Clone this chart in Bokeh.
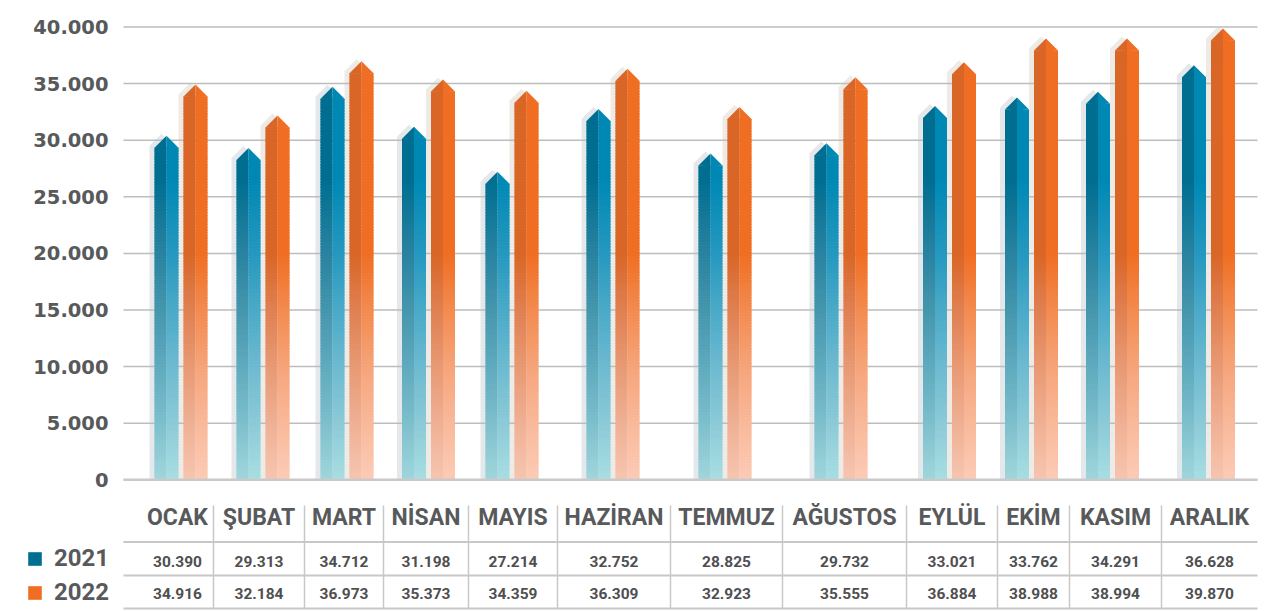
from bokeh.plotting import figure
from bokeh.models import Range1d, ColumnDataSource, Legend, LegendItem
from bokeh.embed import file_html
from bokeh.resources import INLINE
from bokeh.core.properties import value

# ---------------- data ----------------
months = ["OCAK", "ŞUBAT", "MART", "NİSAN", "MAYIS", "HAZİRAN",
          "TEMMUZ", "AĞUSTOS", "EYLÜL", "EKİM", "KASIM", "ARALIK"]
series = ["2021", "2022"]
sales_2021 = [30390, 29313, 34712, 31198, 27214, 32752, 28825, 29732, 33021, 33762, 34291, 36628]
sales_2022 = [34916, 32184, 36973, 35373, 34359, 36309, 32923, 35555, 36884, 38988, 38994, 39870]
y_ticks = [0, 5000, 10000, 15000, 20000, 25000, 30000, 35000, 40000]


def tr_num(v):
    return f"{v:,}".replace(",", ".")


tick_labels = [tr_num(t) for t in y_ticks]

# ---------------- layout (page pixels) ----------------
W, H = 1283, 611
PLOT_L, PLOT_R = 123, 1257
Y0_PX, Y40K_PX = 479.3, 26.5
PPU = (Y0_PX - Y40K_PX) / 40000.0          # pixels per unit
y_top = Y0_PX / PPU
y_bot = -(H - Y0_PX) / PPU

col_edges = [123, 213, 304, 383, 468, 557, 670, 782, 906, 997, 1069, 1161, 1257]
text_x = [177, 258.5, 343.5, 425.5, 512.5, 613.5, 726, 844, 951.5, 1033, 1115, 1209]
bar_x = [180.5, 262.5, 346.5, 428, 511.5, 612.5, 724.5, 840.5, 949, 1031, 1112, 1208]
BAR_W, GAP = 24, 5
TIP = 12 / PPU
SH_DX, SH_DY = -5, 2 / PPU
STEP = 250
OVER = 150
TICK_LABEL_X = 108

HEAD_TOP, HEAD_LINE, MID_LINE, BOT_LINE = 505, 541.5, 575, 608
HEAD_BASE, ROW1_BASE, ROW2_BASE = 516.5, 560.5, 592.5

TXT = "#58595b"
VAL_TXT = "#4f4f51"
GRID = "#bdbdbd"
TBL = "#c8c8c8"

stops = {
    ("2021", "L"): [(0, "#a0d6dc"), (5000, "#7dbfcc"), (10000, "#5faabe"), (15000, "#4596ad"),
                    (20000, "#2883a0"), (26500, "#006e91")],
    ("2021", "R"): [(0, "#a8dee2"), (5000, "#8ccad7"), (10000, "#6dbad0"), (15000, "#4aaac8"),
                    (20000, "#2598bf"), (26500, "#0088b5")],
    ("2022", "L"): [(0, "#f6c5b0"), (5000, "#efb094"), (10000, "#e89973"), (15000, "#e08052"),
                    (20000, "#d96626")],
    ("2022", "R"): [(0, "#fccbb6"), (5000, "#f9b99a"), (10000, "#f6a47a"), (15000, "#f38b4f"),
                    (20000, "#f06e23")],
}
shadow_col = {"2021": "#e5e8eb", "2022": "#eeebe7"}
legend_index = {"2021": 0, "2022": 1}


def hex2rgb(h):
    return tuple(int(h[i:i + 2], 16) for i in (1, 3, 5))


def ramp(st, v):
    if v <= st[0][0]:
        return st[0][1]
    for (a, ca), (b, cb) in zip(st[:-1], st[1:]):
        if v <= b:
            t = (v - a) / (b - a)
            r1, r2 = hex2rgb(ca), hex2rgb(cb)
            return "#%02x%02x%02x" % tuple(round(x + (y - x) * t) for x, y in zip(r1, r2))
    return st[-1][1]


p = figure(width=W, height=H,
           x_range=Range1d(0, W), y_range=Range1d(y_bot, y_top),
           output_backend="svg", toolbar_location=None,
           min_border=0, x_axis_location=None, y_axis_location=None,
           outline_line_color=None, background_fill_color="white",
           border_fill_color="white")
p.extra_y_ranges = {"pg": Range1d(H, 0)}
p.xgrid.visible = False
p.ygrid.visible = False

# ---------------- geometry from data ----------------
sh = dict(xs=[], ys=[], c=[])
sl = dict(l=[], r=[], b=[], t=[], c=[])
tips = {s: dict(xs=[], ys=[], c=[]) for s in series}
for s, vals in zip(series, [sales_2021, sales_2022]):
    tp = tips[s]
    for cx, v in zip(bar_x, vals):
        if s == "2021":
            L, R = cx - GAP / 2 - BAR_W, cx - GAP / 2
        else:
            L, R = cx + GAP / 2, cx + GAP / 2 + BAR_W
        M = (L + R) / 2
        shoulder = v - TIP
        sh["xs"].append([L + SH_DX, L + SH_DX, M + SH_DX, R + SH_DX, R + SH_DX])
        sh["ys"].append([0, shoulder + SH_DY, v + SH_DY, shoulder + SH_DY, 0])
        sh["c"].append(shadow_col[s])
        for half, (a, b) in (("L", (L, M)), ("R", (M, R))):
            y = 0
            while y < shoulder:
                top = min(y + STEP + OVER, shoulder)
                sl["l"].append(a); sl["r"].append(b)
                sl["b"].append(y); sl["t"].append(top)
                sl["c"].append(ramp(stops[(s, half)], y + STEP / 2))
                y += STEP
        topL = ramp(stops[(s, "L")], shoulder)
        topR = ramp(stops[(s, "R")], shoulder)
        tp["xs"].append([L, M, M]); tp["ys"].append([shoulder, v, shoulder - 60]); tp["c"].append(topL)
        tp["xs"].append([M, M, R]); tp["ys"].append([shoulder - 60, v, shoulder]); tp["c"].append(topR)

# shadows (under grid)
p.patches("xs", "ys", source=ColumnDataSource(sh), fill_color="c", line_color=None)

# gridlines
p.segment(x0=[PLOT_L] * len(y_ticks), x1=[PLOT_R] * len(y_ticks), y0=y_ticks, y1=y_ticks,
          line_color=GRID, line_width=1.5)
# y tick labels
p.text(x=[TICK_LABEL_X] * len(y_ticks), y=y_ticks, text=tick_labels,
       text_font=value("DejaVu Sans"), text_font_style="bold", text_font_size="19.5px",
       text_color=TXT, text_align="right", text_baseline="middle")

# bars
p.quad(left="l", right="r", bottom="b", top="t", source=ColumnDataSource(sl),
       fill_color="c", line_color=None)
tip_r = {}
for s in series:
    tip_r[s] = p.patches("xs", "ys", source=ColumnDataSource(tips[s]), fill_color="c", line_color=None)

# baseline
p.segment(x0=[PLOT_L], x1=[PLOT_R], y0=[0], y1=[0], line_color="#c9c9c9", line_width=2.5)

# ---------------- table ----------------
hl_y = [HEAD_LINE, MID_LINE, BOT_LINE]
p.segment(x0=[PLOT_L] * 3, x1=[PLOT_R] * 3, y0=hl_y, y1=hl_y,
          line_color=TBL, line_width=2, y_range_name="pg")
inner = col_edges[1:-1]
p.segment(x0=inner, x1=inner, y0=[HEAD_TOP] * len(inner), y1=[BOT_LINE] * len(inner),
          line_color=TBL, line_width=1.5, y_range_name="pg")

p.text(x=text_x, y=[HEAD_BASE] * 12, text=months, y_range_name="pg",
       text_font=value("Roboto"), text_font_style="bold", text_font_size="23px",
       text_color=TXT, text_align="center", text_baseline="alphabetic")
for vals, base in ((sales_2021, ROW1_BASE), (sales_2022, ROW2_BASE)):
    p.text(x=text_x, y=[base] * 12, text=[tr_num(v) for v in vals], y_range_name="pg",
           text_font=value("Roboto"), text_font_style="bold", text_font_size="15.5px",
           text_color=VAL_TXT, text_align="center", text_baseline="alphabetic")

# ---------------- legend ----------------
items = [LegendItem(label=s, renderers=[tip_r[s]], index=legend_index[s]) for s in series]
leg = Legend(items=items, location=(26, 5),
             glyph_width=17, glyph_height=17, label_standoff=11,
             label_text_font="Roboto", label_text_font_style="bold",
             label_text_font_size="24px", label_text_color=TXT,
             label_height=17, spacing=6, padding=0, margin=0,
             border_line_color=None, background_fill_alpha=0)
p.add_layout(leg)

open("out.html", "w").write(file_html(p, INLINE))
